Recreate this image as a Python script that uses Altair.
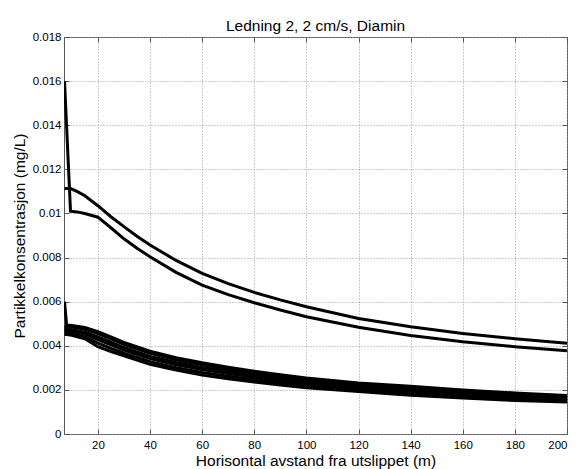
import altair as alt
import pandas as pd

TITLE = "Ledning 2, 2 cm/s, Diamin"
X_TITLE = "Horisontal avstand fra utslippet (m)"
Y_TITLE = "Partikkelkonsentrasjon (mg/L)"

X_TICKS = [20, 40, 60, 80, 100, 120, 140, 160, 180, 200]
Y_TICKS = [0, 0.002, 0.004, 0.006, 0.008, 0.01, 0.012, 0.014, 0.016, 0.018]

# upper pair of curves
X_UPPER = [7.2, 9.5, 12, 15, 20, 25, 30, 35, 40, 50, 60, 70, 80, 90, 100, 120, 140, 160, 180, 200]
UPPER_A = [0.0160, 0.01010, 0.01007, 0.01000, 0.00983, 0.00935, 0.00885, 0.00842, 0.00804, 0.00733,
           0.00675, 0.00632, 0.00595, 0.00562, 0.00532, 0.00484, 0.00447, 0.00418, 0.00396, 0.00378]
UPPER_B = [0.01113, 0.01113, 0.01100, 0.01080, 0.01035, 0.00985, 0.00940, 0.00897, 0.00857, 0.00787,
           0.00728, 0.00682, 0.00642, 0.00608, 0.00577, 0.00524, 0.00486, 0.00456, 0.00432, 0.00411]

# lower bundle of curves
X_BAND = [7.2, 8, 10, 15, 20, 25, 30, 40, 50, 60, 70, 80, 90, 100, 120, 140, 160, 180, 200]
BAND_1 = [0.0060, 0.00494, 0.00492, 0.00483, 0.00464, 0.00440, 0.00415, 0.00375, 0.00346, 0.00323,
          0.00303, 0.00285, 0.00269, 0.00254, 0.00231, 0.00216, 0.00199, 0.00186, 0.00174]
BAND_2 = [0.00487, 0.00487, 0.00485, 0.00475, 0.00455, 0.00431, 0.00406, 0.00366, 0.00337, 0.00314,
          0.00294, 0.00276, 0.00261, 0.00246, 0.00224, 0.00208, 0.00192, 0.00180, 0.00168]
BAND_3 = [0.00475, 0.00475, 0.00473, 0.00462, 0.00440, 0.00416, 0.00392, 0.00352, 0.00324, 0.00302,
          0.00283, 0.00266, 0.00251, 0.00237, 0.00216, 0.00201, 0.00185, 0.00173, 0.00162]
BAND_4 = [0.00468, 0.00468, 0.00466, 0.00453, 0.00428, 0.00404, 0.00381, 0.00342, 0.00314, 0.00292,
          0.00274, 0.00257, 0.00243, 0.00229, 0.00209, 0.00194, 0.00179, 0.00167, 0.00156]
BAND_5 = [0.00458, 0.00458, 0.00455, 0.00440, 0.00412, 0.00388, 0.00366, 0.00328, 0.00300, 0.00279,
          0.00262, 0.00246, 0.00232, 0.00219, 0.00200, 0.00186, 0.00171, 0.00159, 0.00150]
BAND_6 = [0.00451, 0.00451, 0.00448, 0.00432, 0.00396, 0.00374, 0.00355, 0.00316, 0.00290, 0.00267,
          0.00251, 0.00236, 0.00222, 0.00210, 0.00193, 0.00176, 0.00163, 0.00152, 0.00145]

series = [
    ("A", X_UPPER, UPPER_A), ("B", X_UPPER, UPPER_B),
    ("c1", X_BAND, BAND_1), ("c2", X_BAND, BAND_2), ("c3", X_BAND, BAND_3),
    ("c4", X_BAND, BAND_4), ("c5", X_BAND, BAND_5), ("c6", X_BAND, BAND_6),
]
rows = []
for name, xs, ys in series:
    for xv, yv in zip(xs, ys):
        rows.append({"x": xv, "y": yv, "s": name})
df = pd.DataFrame(rows)

FONT = "Liberation Sans"
X_SCALE = alt.Scale(domain=[7, 200], nice=False, zero=False)
Y_SCALE = alt.Scale(domain=[0, 0.018], nice=False, zero=False)

base = alt.Chart(df)

main = base.mark_line(strokeOpacity=0).encode(
    x=alt.X("x:Q", scale=X_SCALE, title=X_TITLE,
            axis=alt.Axis(orient="bottom", values=X_TICKS, offset=-5, tickSize=5, domain=False,
                          grid=True, labelPadding=5, labelFontSize=11.5, titleFontSize=15.5,
                          titleY=36, titleBaseline="alphabetic")),
    y=alt.Y("y:Q", scale=Y_SCALE, title=Y_TITLE,
            axis=alt.Axis(orient="left", values=Y_TICKS, format="~g", offset=-5, tickSize=5,
                          domain=False, grid=True, labelPadding=3, labelFontSize=11.5,
                          titleFontSize=15.5, titleX=-45, titleBaseline="alphabetic",
                          titleAngle=270)),
    detail="s:N",
)

box = base.mark_line(color="black", strokeWidth=3, clip=True).encode(
    x=alt.X("x:Q", scale=X_SCALE, title=None,
            axis=alt.Axis(orient="top", values=X_TICKS, offset=-5, tickSize=5, domain=False,
                          grid=False, labels=False)),
    y=alt.Y("y:Q", scale=Y_SCALE, title=None,
            axis=alt.Axis(orient="right", values=Y_TICKS, offset=-5, tickSize=5, domain=False,
                          grid=False, labels=False)),
    detail="s:N",
)

chart = alt.layer(main, box).resolve_axis(x="independent", y="independent").properties(
    width=503, height=397,
    padding={"left": 56, "top": 29, "right": 1, "bottom": 35},
    autosize=alt.AutoSizeParams(type="none"),
    title=alt.TitleParams(TITLE, fontSize=15.5, fontWeight="normal", font=FONT, offset=9,
                          baseline="alphabetic", color="black", frame="group", dy=24),
).configure_view(stroke="#555555", strokeWidth=1).configure_axis(
    labelFont=FONT, titleFont=FONT, labelColor="black", titleColor="black",
    titleFontWeight="normal", gridDash=[1, 2], gridColor="#9a9a9a", gridWidth=1,
    tickColor="#555555", tickWidth=1,
)

chart.save("out.html", embed_options={"renderer": "svg", "actions": False})
